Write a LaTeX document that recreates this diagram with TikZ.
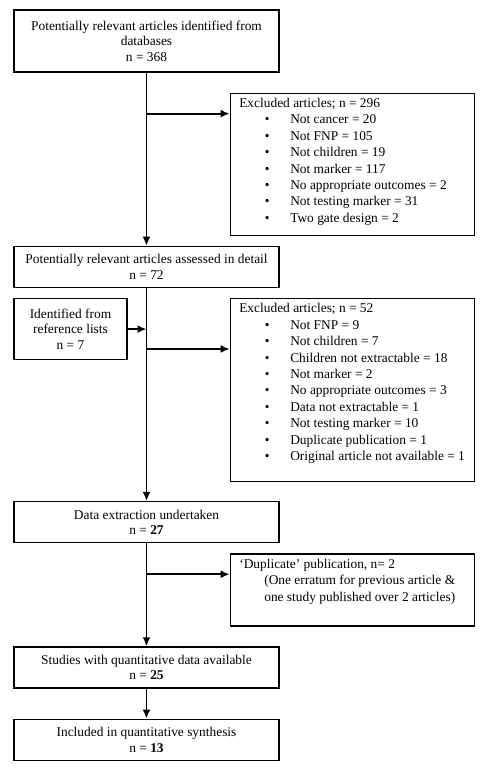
\documentclass[tikz,border=0pt]{standalone}
\usepackage{fontspec}
\setmainfont{Liberation Serif}
\usepackage{tikz}
\usetikzlibrary{positioning,arrows.meta}
\newcommand{\itm}{\hspace*{25.5pt}\makebox[25.5pt][l]{\textbullet}}
\newcommand{\listbox}[2]{\begin{minipage}[t][#1][t]{226pt}\fontsize{13.4}{16.4}\selectfont #2\end{minipage}}

\begin{document}
\begin{tikzpicture}[
mainbox/.style={rectangle, draw=black, line width=1.3pt, minimum width=265pt, minimum height=41pt, align=center, inner sep=2pt, font=\fontsize{13.4}{15.5}\selectfont},
sidebox/.style={rectangle, draw=black, line width=1.3pt, inner xsep=9pt, inner ysep=5pt},
flow/.style={line width=1.8pt, -{Latex[length=9pt,width=8pt]}}
]
\useasboundingbox (0,0) rectangle (479pt,-768pt);

%Nodes
\node[mainbox, minimum height=62pt] (identified) at (146.5pt,-41pt) {Potentially relevant articles identified from\\databases\\n = 368};
\node[sidebox] (excl1) [below right=20pt and -50pt of identified] {\listbox{132pt}{Excluded articles; n = 296\\
\itm Not cancer = 20\\
\itm Not FNP = 105\\
\itm Not children = 19\\
\itm Not marker = 117\\
\itm No appropriate outcomes = 2\\
\itm Not testing marker = 31\\
\itm Two gate design = 2}};
\node[mainbox] (assessed) [below=173pt of identified] {Potentially relevant articles assessed in detail\\n = 72};
\node[mainbox, minimum width=113pt, minimum height=61pt] (reflist) [below right=10pt and 0pt of assessed.south west] {Identified from\\reference lists\\n = 7};
\node[sidebox] (excl2) [below right=10pt and -50pt of assessed] {\listbox{173pt}{Excluded articles; n = 52\\
\itm Not FNP = 9\\
\itm Not children = 7\\
\itm Children not extractable = 18\\
\itm Not marker = 2\\
\itm No appropriate outcomes = 3\\
\itm Data not extractable = 1\\
\itm Not testing marker = 10\\
\itm Duplicate publication = 1\\
\itm Original article not available = 1}};
\node[mainbox] (extraction) [below=213pt of assessed] {Data extraction undertaken\\n = \textbf{27}};
\node[sidebox] (duplicate) [below right=10pt and -50pt of extraction] {\listbox{62pt}{‘Duplicate’ publication, n= 2\\
\hspace*{25pt}(One erratum for previous article \&\\
\hspace*{25pt}one study published over 2 articles)}};
\node[mainbox] (quantitative) [below=103pt of extraction] {Studies with quantitative data available\\n = \textbf{25}};
\node[mainbox] (synthesis) [below=30pt of quantitative] {Included in quantitative synthesis\\n = \textbf{13}};

\coordinate[below=41pt of identified] (split1);
\coordinate[below=61pt of assessed] (split2);
\coordinate[below=31pt of extraction] (split3);

%Connections
\draw[flow] (identified.south) -- (assessed.north);
\draw[flow] (split1) -- (split1 -| excl1.west);

\draw[flow] (assessed.south) -- (extraction.north);
\draw[flow] (reflist.east) -- (reflist.east -| assessed.south);
\draw[flow] (split2) -- (split2 -| excl2.west);

\draw[flow] (extraction.south) -- (quantitative.north);
\draw[flow] (split3) -- (split3 -| duplicate.west);

\draw[flow] (quantitative.south) -- (synthesis.north);
\end{tikzpicture}
\end{document}
